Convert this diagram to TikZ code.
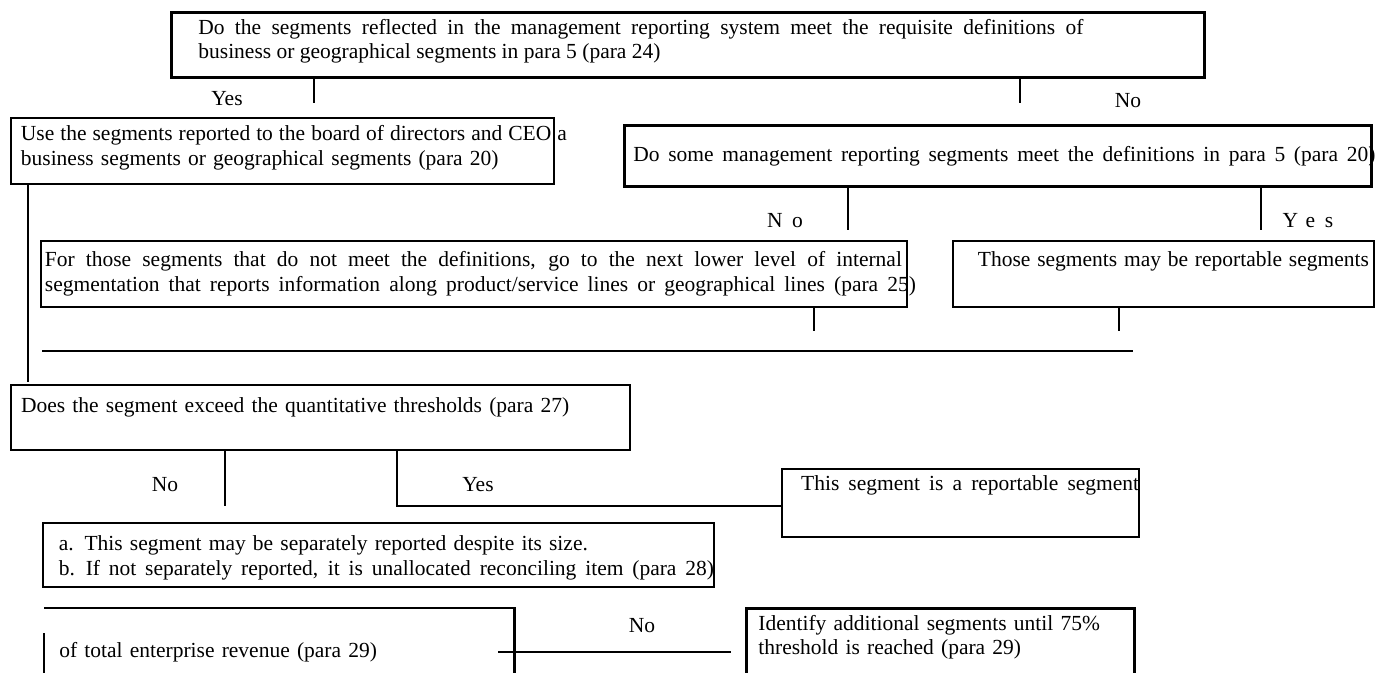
\documentclass[tikz,border=0pt]{standalone}
\usepackage{fontspec}
\setmainfont{Liberation Serif}
\usetikzlibrary{positioning,calc}
\newcommand{\flowfont}{\fontsize{21.5}{24.5}\selectfont}
\newcommand{\plainsp}{\spaceskip=0pt\xspaceskip=0pt\relax}
\newcommand{\spread}[2]{\makebox[#1][s]{\spaceskip=.25em plus 1fil minus .05em\relax #2}}

\begin{document}
\begin{tikzpicture}[x=1pt, y=-1pt,
  box/.style={draw, line width=1.8pt, anchor=north west, align=left, inner ysep=0pt, font=\flowfont},
  heavybox/.style={box, line width=2.8pt},
  lbl/.style={inner sep=0pt, font=\flowfont},
  spaced/.style={inner sep=0pt, font=\flowfont\addfontfeature{LetterSpace=45}},
  link/.style={line width=2.2pt},
  heavylink/.style={line width=2.8pt}
]
\useasboundingbox (0,0) rectangle (1375,672);
\clip (0,0) rectangle (1375,672);

% decision and action boxes
\node[heavybox, execute at begin node=\plainsp, text width=979pt, inner xsep=27pt, text height=22pt, text depth=43pt] (segDef) at (170,11)
  {\spread{885pt}{Do the segments reflected in the management reporting system meet the requisite definitions of}\\
   business or geographical segments in para 5 (para 24)};
\node[box, text width=523pt, inner xsep=10pt, text height=23pt, text depth=43pt] (useBoard) at (10,117)
  {\spread{546pt}{Use the segments reported to the board of directors and CEO a}\\
   business segments or geographical segments (para 20)};
\node[heavybox, text width=729pt, inner xsep=9pt, text height=36pt, text depth=25pt] (someMeet) at (623,124)
  {\spread{742pt}{Do some management reporting segments meet the definitions in para 5 (para 20)}};
\node[box, text width=858pt, inner xsep=4pt, text height=26pt, text depth=40pt] (lowerLevel) at (40,240)
  {\spread{857pt}{For those segments that do not meet the definitions, go to the next lower level of internal}\\
   \spread{871pt}{segmentation that reports information along product/service lines or geographical lines (para 25)}};
\node[box, text width=371pt, inner xsep=25pt, text height=26pt, text depth=40pt] (mayReport) at (952,240)
  {\spread{391pt}{Those segments may be reportable segments}};
\node[box, line width=2.3pt, text width=599pt, inner xsep=10pt, text height=27pt, text depth=38pt] (exceedQ) at (10,384)
  {Does the segment exceed the quantitative thresholds (para 27)};
\node[box, line width=2.3pt, text width=319pt, inner xsep=19pt, text height=21pt, text depth=47pt] (isReport) at (781,468)
  {\spread{338pt}{This segment is a reportable segment}};
\node[box, text width=639pt, inner xsep=16pt, text height=28pt, text depth=36pt] (sizeNote) at (42,522)
  {a. This segment may be separately reported despite its size.\\
   \spread{655pt}{b. If not separately reported, it is unallocated reconciling item (para 28)}};
\node[heavybox, draw=none, text width=440pt, inner xsep=14pt, text height=48pt, text depth=28pt] (revTotal) at (44,608)
  {of total enterprise revenue (para 29)};
\node[heavybox, text width=364pt, inner xsep=12pt, text height=22pt, text depth=55pt] (addSeg) at (745,607)
  {Identify additional segments until 75\%\\
   threshold is reached (para 29)};

\draw[heavylink] ($(revTotal.north west)+(0,25)$) -- (revTotal.south west);
\draw[heavylink] (revTotal.north west) -- (revTotal.north east) -- (revTotal.south east);

% branch labels
\node[lbl] (yesDef) at (227,99) {Yes};
\node[lbl] (noDef) at (1128,101) {No};
\node[spaced] (noSome) at (785,221) {No};
\node[spaced] (yesSome) at (1308,221) {Yes};
\node[lbl] (noQ) at (165,485) {No};
\node[lbl] (yesQ) at (478,485) {Yes};
\node[lbl] (noRev) at (642,626) {No};

% connectors
\coordinate (yesTop) at (314,103);
\coordinate (noTop) at (1020,103);
\draw[heavylink] (segDef.south -| yesTop) -- (yesTop);
\draw[heavylink] (segDef.south -| noTop) -- (noTop);
\coordinate (useDrop) at (28,382);
\draw[link] (useBoard.south -| useDrop) -- (useDrop);
\coordinate (noMid) at (848,230);
\coordinate (yesMid) at (1261,230);
\draw[heavylink] (someMeet.south -| noMid) -- (noMid);
\draw[heavylink] (someMeet.south -| yesMid) -- (yesMid);
\coordinate (lowerDrop) at (814,331);
\coordinate (mayDrop) at (1119,331);
\draw[link] (lowerLevel.south -| lowerDrop) -- (lowerDrop);
\draw[link] (mayReport.south -| mayDrop) -- (mayDrop);
\coordinate (joinL) at (42,351);
\coordinate (joinR) at (1133,351);
\draw[link] (joinL) -- (joinR);
\coordinate (noLow) at (225,506);
\coordinate (yesLow) at (397,506);
\draw[link] (exceedQ.south -| noLow) -- (noLow);
\draw[link] (exceedQ.south -| yesLow) -- (yesLow) -- (yesLow -| isReport.west);
\coordinate (noBotL) at (498,652);
\coordinate (noBotR) at (731,652);
\draw[link] (noBotL) -- (noBotR);
\end{tikzpicture}
\end{document}
